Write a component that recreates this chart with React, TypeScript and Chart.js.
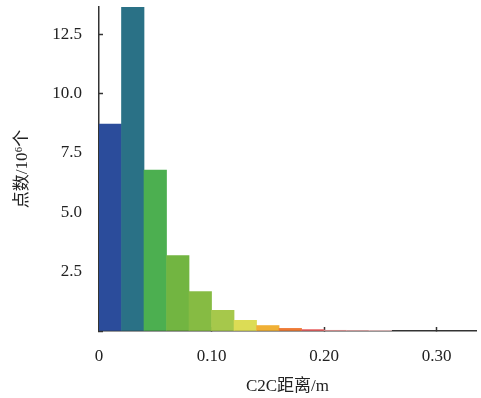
import React, { useEffect, useRef } from "react";
import { Chart, registerables } from "chart.js";

Chart.register(...registerables);

const binCenters = [0.01, 0.03, 0.05, 0.07, 0.09, 0.11, 0.13, 0.15, 0.17, 0.19, 0.21, 0.23, 0.25];
const counts = [8.72, 13.9, 6.78, 3.18, 1.66, 0.87, 0.45, 0.23, 0.11, 0.06, 0.03, 0.015, 0.008];
const barColors = [
  "#2b4c9b", "#2a7186", "#4caf50", "#72b541", "#86bb43", "#a6c84b",
  "#dcdc55", "#f0b035", "#ee7a35", "#e86060", "#e89a9a", "#ecb0b0", "#f0c8c8",
];
const xTicks = [0, 0.1, 0.2, 0.3];
const xTickLabels = ["0", "0.10", "0.20", "0.30"];
const yTicks = [2.5, 5.0, 7.5, 10.0, 12.5];

const FONT = "'Liberation Serif', 'Times New Roman', 'Noto Sans CJK SC', serif";

export default function App() {
  const ref = useRef<HTMLCanvasElement | null>(null);
  useEffect(() => {
    if (!ref.current) return;
    const chart = new Chart(ref.current, {
      type: "bar",
      data: {
        datasets: [
          {
            data: binCenters.map((x, i) => ({ x, y: counts[i] })),
            backgroundColor: barColors,
            borderWidth: 0,
            barPercentage: 1,
            categoryPercentage: 1,
          },
        ],
      },
      options: {
        animation: false,
        responsive: true,
        maintainAspectRatio: false,
        layout: { autoPadding: false, padding: { top: 7, right: 5, left: 0, bottom: 0 } },
        plugins: { legend: { display: false }, tooltip: { enabled: false } },
        scales: {
          x: {
            type: "linear",
            offset: false,
            min: 0,
            max: 0.335,
            afterFit: (s: any) => {
              s.height = 67;
              s.paddingLeft = 0;
              s.paddingRight = 0;
            },
            afterBuildTicks: (s: any) => { s.ticks = xTicks.map((v) => ({ value: v })); },
            ticks: {
              includeBounds: false,
              padding: 19,
              maxRotation: 0,
              color: "#222",
              font: { family: FONT, size: 17 },
              callback: (v: any) => {
                const i = xTicks.findIndex((t) => Math.abs(t - v) < 1e-9);
                return i >= 0 ? xTickLabels[i] : "";
              },
            },
            grid: {
              offset: false,
              drawOnChartArea: false,
              drawTicks: true,
              tickLength: -4,
              tickColor: "#333",
              tickWidth: 1.5,
            },
            border: { display: true, color: "#333", width: 1.5 },
            title: {
              display: true,
              text: "C2C距离/m",
              color: "#222",
              font: { family: FONT, size: 17 },
              padding: { top: 0, bottom: 1 },
            },
          },
          y: {
            min: 0,
            max: 13.65,
            afterFit: (s: any) => {
              s.width = 99;
              s.paddingTop = 0;
              s.paddingBottom = 0;
            },
            afterBuildTicks: (s: any) => { s.ticks = [0, ...yTicks].map((v) => ({ value: v })); },
            ticks: {
              includeBounds: false,
              padding: 21,
              color: "#222",
              font: { family: FONT, size: 17 },
              callback: (v: any) => (v === 0 ? "" : Number(v).toFixed(1)),
            },
            grid: {
              drawOnChartArea: false,
              drawTicks: true,
              tickLength: -4,
              tickColor: "#333",
              tickWidth: 1.5,
            },
            border: { display: true, color: "#333", width: 1.5 },
            title: {
              display: true,
              text: "点数/10⁶个",
              color: "#222",
              font: { family: FONT, size: 17 },
              padding: { top: 12, bottom: 0 },
            },
          },
        },
      },
    });
    return () => chart.destroy();
  }, []);
  return (
    <div style={{ position: "fixed", left: 0, top: 0, width: 481, height: 398, background: "#fff" }}>
      <canvas ref={ref} />
    </div>
  );
}
